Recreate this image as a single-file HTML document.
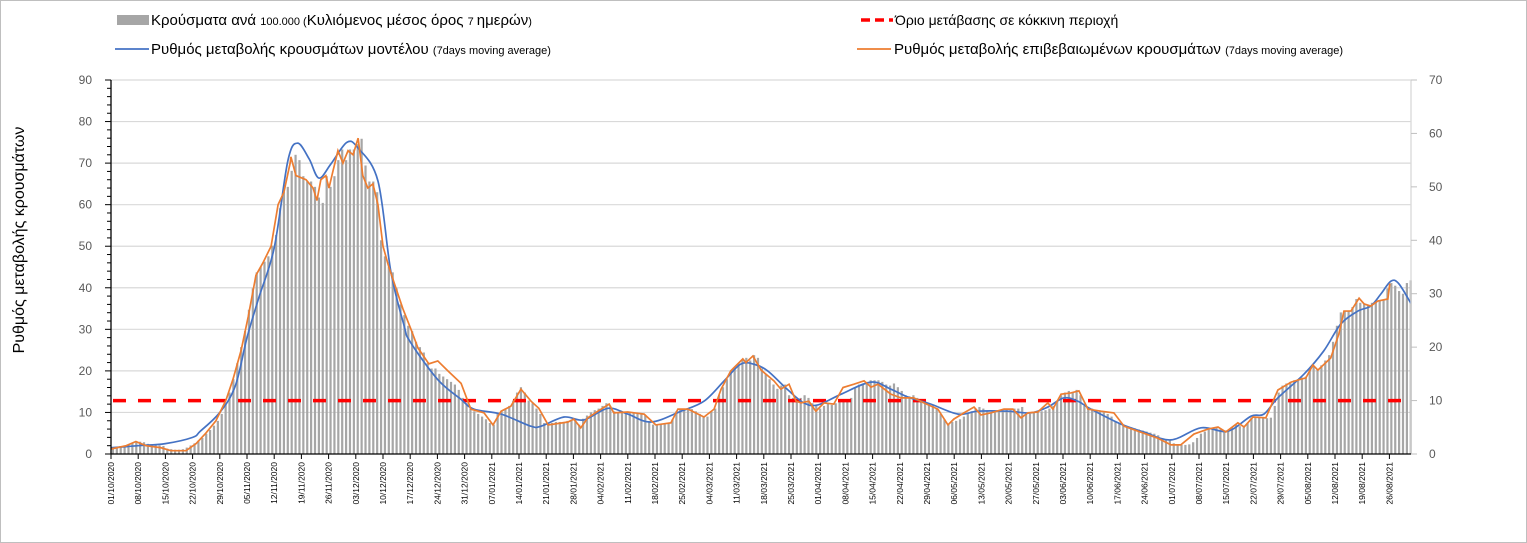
<!DOCTYPE html>
<html><head><meta charset="utf-8"><style>
html,body{margin:0;padding:0;background:#fff;}
#wrap{position:relative;width:1527px;height:543px;overflow:hidden;box-sizing:border-box;border:1px solid #bfbfbf;background:#fff;}
svg{position:absolute;left:0;top:0;}
text{font-family:"Liberation Sans",sans-serif;}
</style></head><body>
<div id="wrap">
<svg id="chart" width="1527" height="543" viewBox="0 0 1527 543">
  <g id="grid"></g>
  <g id="bars"></g>
  <line id="thr" x1="112" x2="1408" stroke="#ff0000" stroke-width="3.5" stroke-dasharray="13,12"/>
  <path id="blue" fill="none" stroke="#4472c4" stroke-width="1.7"/>
  <path id="orange" fill="none" stroke="#ed7d31" stroke-width="1.7"/>
  <g id="axes"></g>
  <text transform="translate(23,239) rotate(-90)" text-anchor="middle" font-size="16" fill="#000" style="font-family:'Liberation Sans','DejaVu Sans',sans-serif">Ρυθμός μεταβολής κρουσμάτων</text>
  <g>
    <g>
      <rect x="116" y="14" width="32" height="10" fill="#a6a6a6"/>
      <text x="150" y="24" font-size="15" style="font-family:'Liberation Sans','DejaVu Sans',sans-serif">Κρούσματα ανά <tspan font-size="11">100.000 (</tspan>Κυλιόμενος μέσος όρος <tspan font-size="11">7 </tspan>ημερών<tspan font-size="11">)</tspan></text>
    </g>
    <g>
      <line x1="860" x2="892" y1="19" y2="19" stroke="#ff0000" stroke-width="3.5" stroke-dasharray="9,5"/>
      <text x="894" y="24" font-size="14" style="font-family:'Liberation Sans','DejaVu Sans',sans-serif">Όριο μετάβασης σε κόκκινη περιοχή</text>
    </g>
    <g>
      <line x1="114" x2="148" y1="48" y2="48" stroke="#4472c4" stroke-width="1.8"/>
      <text x="150" y="53" font-size="15" style="font-family:'Liberation Sans','DejaVu Sans',sans-serif">Ρυθμός μεταβολής κρουσμάτων μοντέλου <tspan font-size="11">(7days moving average)</tspan></text>
    </g>
    <g>
      <line x1="856" x2="890" y1="48" y2="48" stroke="#ed7d31" stroke-width="1.8"/>
      <text x="893" y="53" font-size="15" style="font-family:'Liberation Sans','DejaVu Sans',sans-serif">Ρυθμός μεταβολής επιβεβαιωμένων κρουσμάτων <tspan font-size="11">(7days moving average)</tspan></text>
    </g>
  </g>
</svg>
</div>
<script>
// ---- data ----
const leftTicks = [0,10,20,30,40,50,60,70,80,90];
const rightTicks = [0,10,20,30,40,50,60,70];
const dateLabels = ["01/10/2020","08/10/2020","15/10/2020","22/10/2020","29/10/2020","05/11/2020","12/11/2020","19/11/2020","26/11/2020","03/12/2020","10/12/2020","17/12/2020","24/12/2020","31/12/2020","07/01/2021","14/01/2021","21/01/2021","28/01/2021","04/02/2021","11/02/2021","18/02/2021","25/02/2021","04/03/2021","11/03/2021","18/03/2021","25/03/2021","01/04/2021","08/04/2021","15/04/2021","22/04/2021","29/04/2021","06/05/2021","13/05/2021","20/05/2021","27/05/2021","03/06/2021","10/06/2021","17/06/2021","24/06/2021","01/07/2021","08/07/2021","15/07/2021","22/07/2021","29/07/2021","05/08/2021","12/08/2021","19/08/2021","26/08/2021"];
const thresholdRight = 10;
// daily cases per 100k (right axis)
const barValues = [
1.2,1.3,1.5,1.6,1.8,2.0,2.2, 2.3,2.2,1.9,1.8,1.7,1.6,1.5, 1.0,0.9,0.8,0.8,0.9,1.2,1.6,
2.0,2.5,3.0,3.8,4.5,5.3,6.2, 7.5,9.5,11.5,14,17,20,23, 27,31,34,35,36,37,39,
41,46,49,50,53,56,55, 52,51,51,50,48,47,52, 50,52,55,57,55,57,57, 58,59,54,51,51,49,40,
37,35,34,31,28,26,24, 23,21,20,19,17,16,16, 15,14.5,14,13.5,13,12,10.5, 9.5,8.5,8,7.5,7,6.5,5.8,
5.5,7.5,8,8.5,9,10,11.5, 12.5,11.5,10,9.5,8.5,7.5,5.8, 5.7,5.8,6,6,6,6.2,6.4, 6.5,5.5,6.6,7.2,7.8,8.2,8.5,
9,9.5,9,8,7.8,7.8,7.8, 7.8,7.8,7.5,7.5,7.2,6,5.5, 5.4,5.6,5.8,5.8,6.5,8,8.5, 8.5,8.6,8.4,8,7.5,7,7,
8,8.5,11,12.5,14,15.5,16, 17,17.5,18,17.5,18.5,18,16, 15,14,13,12.2,12.8,13,11, 10.5,10,10.5,11,10.5,9.5,9,
8.5,9,9.5,9.2,9.5,9.8,10, 10,10.5,12.5,13,13.2,13.5,13.8, 13.8,13.8,13.5,13,12.8,13.2,12.5, 11.8,11,10.8,11,10.5,10.3,9.8,
9.5,9.2,8.5,7.5,6.5,5.5,6, 6.2,6.5,7,7.5,8,8.5,8.8, 8.5,8,7.8,7.8,8,8.2,8.3, 8.3,8.5,8.5,8.8,7.6,7.5,7.8,
8,8,8.2,8.5,9,10,11, 11.5,11.8,11.5,12,11,9,8.5, 8.5,8.2,8,7.8,7.5,7,6, 5.8,5.5,5.2,5,4.8,4.6,4.4,
4.2,4,3.8,3.5,3,2.8,2.6, 2,1.8,1.7,1.7,1.8,2.2,3, 3.8,4.2,4.6,4.8,5,4.6,4.2, 4.3,5,5.5,5.2,5,5.8,6.8,
6.8,6.8,6.8,6.7,6.8,9,11.5, 12.8,13.2,13.5,13.8,14,14.3,14.5, 16,16.5,15.8,16.6,17.5,18.5,21, 24,26.5,26.8,26.8,27.5,29,28.3,
28,27.8,28.3,28.5,28.8,28.9,31, 32,31.5,30.5,30,32,32.5];
// model rate (left axis)
const blueDays = [0,7,14,21,23,28,32,35,38,42,45.5,48,51,53.5,56.6,60.7,63.6,68.7,72,75.4,77,84,90,93.4,100.4,108,110.7,116.6,121.7,127.9,133,139,146.7,152.6,157.7,162,165.5,169,174,178.3,181.9,187.9,195.6,200.7,205.1,211,218,223.1,230.8,236.7,241.1,245.2,248.8,252.2,259.9,265.8,272.8,280.5,287.4,293.4,296.7,300.3,307,312.1,316.5,320.9,324.2,326.8,329.4,331.4,334.5];
const blueValues = [1.5,2,2.5,4,5.5,10,16.4,28,37.5,49.6,70.5,74.8,71,66.4,69.8,75,73.6,65.7,44,31,27,18,13.2,10.8,9.6,6.7,6.7,8.9,8.2,11,9.6,7.7,10.3,12.7,17.5,21.6,21.6,20,15.6,12.3,11.8,14.4,17.3,15.6,13.7,12,9.6,10.3,10.3,9.9,11.3,13.5,12.7,10.8,7.2,5.3,3.4,6.3,5.5,9.1,9.6,13.5,19.2,24.8,31.3,34.4,35.6,38.5,41.6,41,36.3];
// confirmed rate (left axis)
const orangeDays = [0,3.9,6.4,9,12.9,15.4,19.3,21.9,24.4,27,29.6,31.4,33.5,35.3,37.3,39.1,41.2,43,44.5,46.1,46.3,47.6,50.2,52,53,54,55.3,56.1,57.1,58.4,59.7,61,62.3,63.6,64.8,66.1,67.4,68.7,70,71.5,73.3,75.1,77.2,79,81.8,84.1,86.7,90.1,92.6,96,98.3,100.4,102.9,105.5,108.1,110.1,112.5,117.6,119.1,120.9,122.7,125.3,128.2,129.4,133,137.2,140.2,144.1,145.9,148.5,152.6,155.2,157,159.5,162.6,163.4,165.2,167.3,170.6,172.4,174.5,176.3,177.6,179.6,181.4,183.5,186,188.4,191.2,193.8,195.6,197.4,200.7,203.3,206.6,209.2,212.8,215.4,216.9,219.5,222.1,223.9,226.5,229.8,232.1,234.2,236,238.5,241.1,242.4,244.5,247,249.1,251.4,254.8,258.1,260.7,264.3,269.4,272.8,275.3,278.7,282.3,284.9,286.9,290,291.6,293.9,297.2,300.3,303.7,306.2,307.5,309.3,310.6,313.9,316,317.3,319.1,321.2,322.5,324.2,326,328.6,329.1];
const orangeValues = [1.2,2,3,2,1.5,0.8,0.8,2.5,5,8,13,18,25,33,43,46,50,60,63,70,71.5,67,66,64,61,66,67,64,68,73,70,73,72,76,67,64,65,60,50,45,40,35,30,25.5,21.7,22.4,20,17,10.8,9.9,7,10.3,11.5,15.6,12.7,11,7,7.7,8.4,6.3,8.7,10.3,12,9.9,10.1,9.6,7,7.5,10.8,10.8,8.9,10.8,15.6,20,22.9,22,23.6,20.2,17.6,15.6,16.8,12.7,12.3,12.7,10.3,12.3,12,16,16.8,17.6,16.1,16.8,14.4,13.5,13.5,12.3,10.8,7,8.4,9.9,11.3,9.4,9.9,10.8,10.8,8.7,9.9,10.1,12.3,10.8,14.4,14.7,15.2,10.8,10.3,9.9,6.7,5.5,3.8,2.2,2.2,4.8,6,6.5,5.3,7.5,6.5,8.9,8.7,15.4,17.3,18,18.3,21.4,20.2,23.1,28.9,34.4,34.4,37.5,36.1,35.6,36.8,37.3,41];

// ---- scales ----
const X0 = 110, DAYPX = 27.2/7, Y0 = 453, YTOP = 79, XEND = 1410;
const xDay = d => X0 + d*DAYPX;
const yLeft = v => Y0 - v*(Y0-YTOP)/90;
const yRight = v => Y0 - v*(Y0-YTOP)/70;
const NS = "http://www.w3.org/2000/svg";
function mk(tag, attrs, parent){const e=document.createElementNS(NS,tag);for(const k in attrs)e.setAttribute(k,attrs[k]);parent.appendChild(e);return e;}

const grid = document.getElementById('grid');
leftTicks.forEach(v=>{ if(v===0) return;
  const l = mk('line',{x1:X0,x2:XEND,y1:yLeft(v),y2:yLeft(v),stroke:'#d9d9d9','stroke-width':1.2},grid);
  
  
});

const bars = document.getElementById('bars');
barValues.forEach((v,i)=>{
  const x = xDay(i+0.5);
  const r = mk('rect',{x:(x-1.1).toFixed(2),y:yRight(v).toFixed(2),width:2.2,height:(Y0-yRight(v)).toFixed(2),fill:'#a6a6a6'},bars);
  
  
});

const thr = document.getElementById('thr');
thr.setAttribute('y1', yRight(thresholdRight));
thr.setAttribute('y2', yRight(thresholdRight));

function pathFrom(days, vals){ return days.map((d,i)=>(i?'L':'M')+xDay(d).toFixed(2)+','+yLeft(vals[i]).toFixed(2)).join(' '); }
function smoothPath(days, vals){
  const p = days.map((d,i)=>[xDay(d), yLeft(vals[i])]);
  let s = 'M'+p[0][0].toFixed(2)+','+p[0][1].toFixed(2);
  for(let i=0;i<p.length-1;i++){
    const p0=p[Math.max(0,i-1)], p1=p[i], p2=p[i+1], p3=p[Math.min(p.length-1,i+2)];
    const c1x=p1[0]+(p2[0]-p0[0])/6, c1y=p1[1]+(p2[1]-p0[1])/6;
    const c2x=p2[0]-(p3[0]-p1[0])/6, c2y=p2[1]-(p3[1]-p1[1])/6;
    s += ` C${c1x.toFixed(2)},${c1y.toFixed(2)} ${c2x.toFixed(2)},${c2y.toFixed(2)} ${p2[0].toFixed(2)},${p2[1].toFixed(2)}`;
  }
  return s;
}
document.getElementById('blue').setAttribute('d', smoothPath(blueDays, blueValues));
document.getElementById('orange').setAttribute('d', pathFrom(orangeDays, orangeValues));

const axes = document.getElementById('axes');
const la = mk('line',{x1:X0,x2:X0,y1:YTOP,y2:Y0,stroke:'#000','stroke-width':1.3},axes);


for(let v=0; v<=90; v+=2){
  const major = v%10===0;
  mk('line',{x1:X0-(major?6:4),x2:X0,y1:yLeft(v),y2:yLeft(v),stroke:'#000','stroke-width':1},axes);
}
leftTicks.forEach(v=>{
  const t = mk('text',{x:91,y:yLeft(v)+4,'text-anchor':'end','font-size':12,fill:'#595959'},axes);
  t.textContent = v;
  
  
});
const ra = mk('line',{x1:XEND,x2:XEND,y1:YTOP,y2:Y0,stroke:'#d9d9d9','stroke-width':1.3},axes);


rightTicks.forEach(v=>{
  mk('line',{x1:XEND,x2:XEND+6,y1:yRight(v),y2:yRight(v),stroke:'#bfbfbf','stroke-width':1},axes);
  const t = mk('text',{x:1428,y:yRight(v)+4,'font-size':12,fill:'#595959'},axes);
  t.textContent = v;
  
  
});
const xa = mk('line',{x1:X0,x2:XEND,y1:Y0,y2:Y0,stroke:'#000','stroke-width':1.3},axes);


dateLabels.forEach((lab,i)=>{
  const x = xDay(i*7);
  mk('line',{x1:x,x2:x,y1:Y0,y2:Y0+5,stroke:'#000','stroke-width':1},axes);
  const t = mk('text',{transform:`translate(${(x+3).toFixed(1)},461) rotate(-90)`,'text-anchor':'end','font-size':8.5,fill:'#000'},axes);
  t.textContent = lab;
  
  
});
</script>
</body></html>
